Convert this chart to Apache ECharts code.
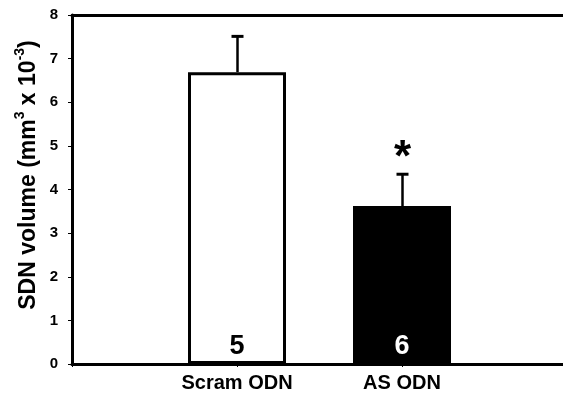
<!DOCTYPE html>
<html><head><meta charset="utf-8">
<script src="https://cdn.jsdelivr.net/npm/echarts@6/dist/echarts.min.js"></script>
<style>html,body{margin:0;padding:0;background:#fff}#c{width:563px;height:410px}</style>
</head><body><div id="c"></div>
<script>
var categories = ['', 'Scram ODN', 'AS ODN', ''];
var barCats = ['Scram ODN', 'AS ODN'];
var means = [6.69, 3.62];
var sems = [0.82, 0.73];
var counts = [5, 6];
var marks = ['', '*'];
var yTicks = [0, 1, 2, 3, 4, 5, 6, 7, 8];
var yTitle = '{a|SDN volume (mm}{s|3}{a| x 10}{s|-3}{a|)}';

var F = 'Liberation Sans, Arial, Helvetica, sans-serif';
var chart = echarts.init(document.getElementById('c'));
chart.setOption({
  animation: false,
  backgroundColor: '#fff',
  grid: { left: 72, width: 495, top: 15, bottom: 46, containLabel: false, outerBoundsMode: 'none' },
  graphic: [{
    type: 'text', x: 27, y: 175, rotation: Math.PI / 2,
    style: {
      text: yTitle, align: 'center', verticalAlign: 'middle',
      rich: {
        a: { fontFamily: F, fontWeight: 'bold', fontSize: 23, fill: '#000', lineHeight: 27, verticalAlign: 'bottom' },
        s: { fontFamily: F, fontWeight: 'bold', fontSize: 14, fill: '#000', lineHeight: 27, verticalAlign: 'top' }
      }
    }
  }],
  xAxis: [{
    type: 'category', data: categories, boundaryGap: false,
    axisLine: { lineStyle: { color: '#000', width: 3 } },
    axisTick: { show: true, length: 3, lineStyle: { color: '#000', width: 1 } },
    axisLabel: { color: '#000', fontFamily: F, fontWeight: 'bold', fontSize: 20, margin: 9 }
  }, {
    type: 'category', data: categories, boundaryGap: false, position: 'top',
    axisLine: { show: true, onZero: false, lineStyle: { color: '#000', width: 3 } },
    axisTick: { show: false }, axisLabel: { show: false }
  }],
  yAxis: {
    type: 'value', min: yTicks[0], max: yTicks[yTicks.length - 1], interval: 1,
    splitLine: { show: false },
    axisLine: { show: true, lineStyle: { color: '#000', width: 3 } },
    axisTick: { show: true, length: 4, lineStyle: { color: '#000', width: 1 } },
    axisLabel: { color: '#000', fontFamily: F, fontWeight: 'bold', fontSize: 15, margin: 14 }
  },
  series: [{
    type: 'bar',
    barWidth: 98,
    data: barCats.map(function (c, i) {
      return {
        value: [c, means[i]],
        itemStyle: { color: i === 0 ? '#fff' : '#000', borderColor: '#000', borderWidth: 3 },
        label: { color: i === 0 ? '#000' : '#fff' }
      };
    }),
    label: {
      show: true, position: 'insideBottom', distance: 4,
      fontFamily: F, fontWeight: 'bold', fontSize: 27,
      formatter: function (p) { return String(counts[p.dataIndex]); }
    }
  }, {
    type: 'custom',
    z: 5,
    data: barCats.map(function (c, i) { return [c, means[i], means[i] + sems[i]]; }),
    renderItem: function (params, api) {
      var i = params.dataIndex;
      var base = api.coord([api.value(0), api.value(1)]);
      var top = api.coord([api.value(0), api.value(2)]);
      var x = Math.round(base[0]) + 0.5;
      var children = [
        { type: 'line', shape: { x1: x, y1: base[1], x2: x, y2: top[1] }, style: { stroke: '#000', lineWidth: 2.5 } },
        { type: 'line', shape: { x1: x - 6, y1: top[1], x2: x + 6, y2: top[1] }, style: { stroke: '#000', lineWidth: 3 } }
      ];
      if (marks[i]) {
        children.push({
          type: 'text',
          style: { text: marks[i], x: x, y: top[1] - 15, textAlign: 'center', textVerticalAlign: 'middle',
            fill: '#000', font: 'bold 44px ' + F }
        });
      }
      return { type: 'group', children: children };
    }
  }]
});
</script></body></html>
